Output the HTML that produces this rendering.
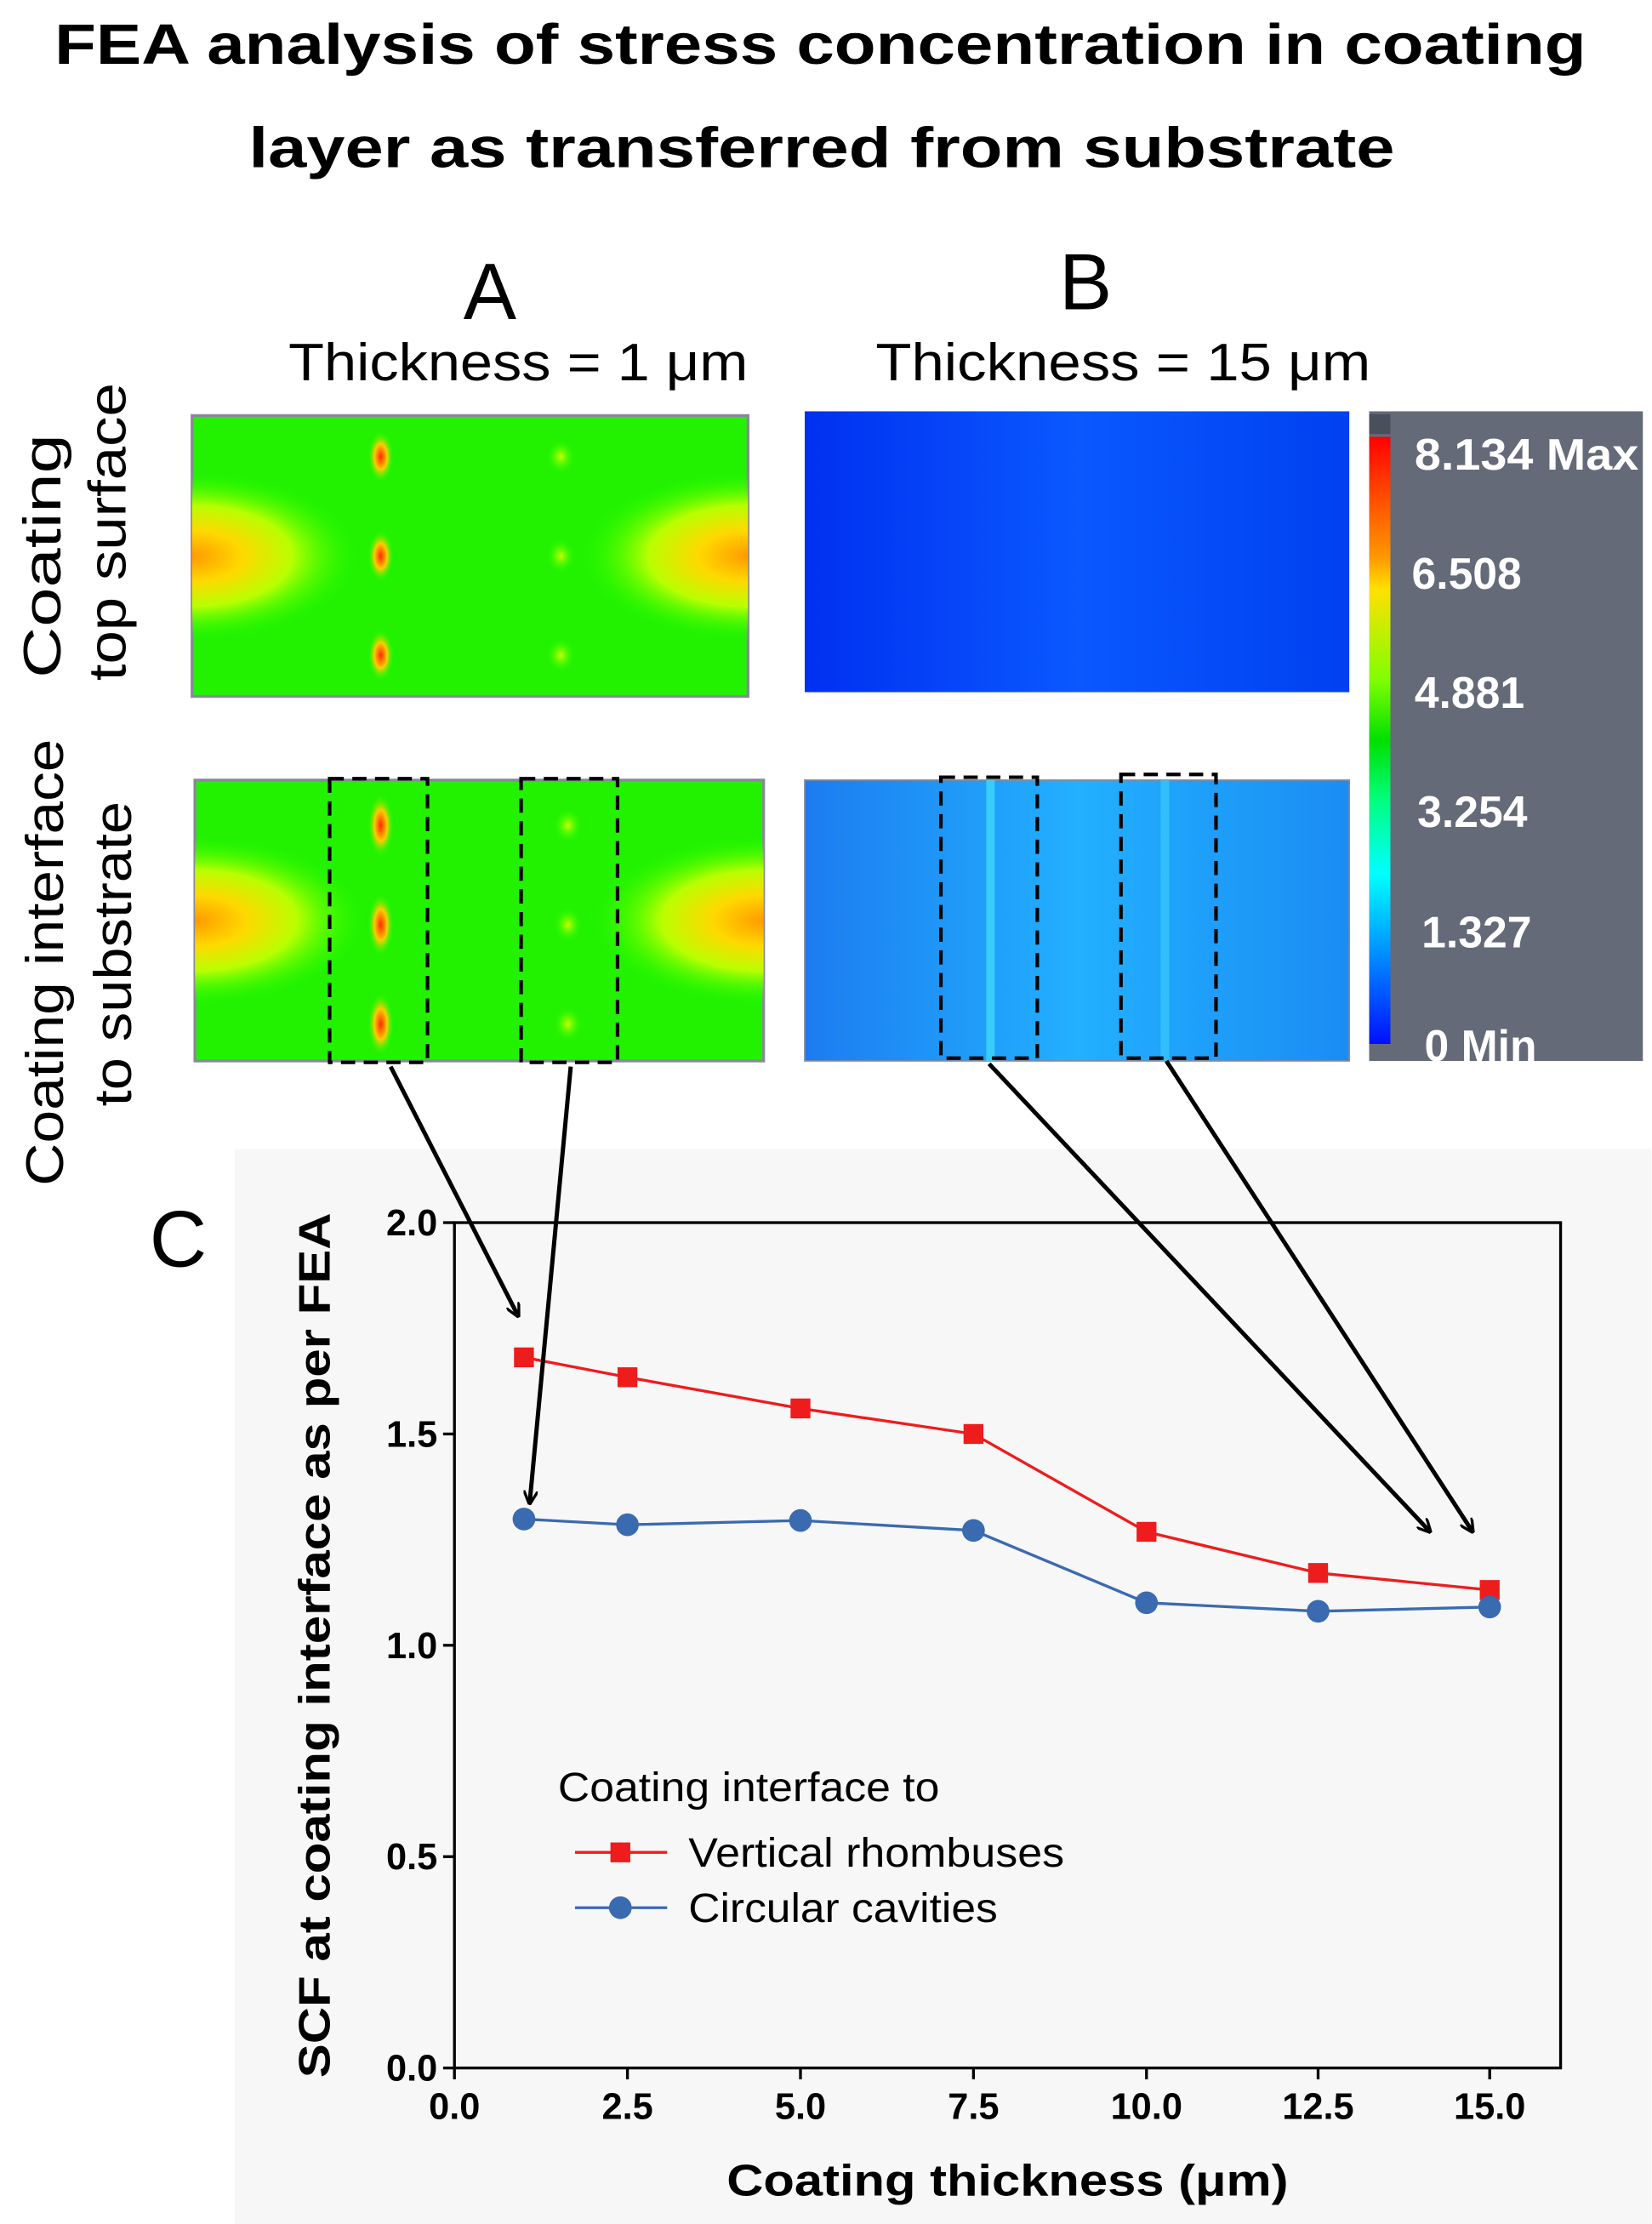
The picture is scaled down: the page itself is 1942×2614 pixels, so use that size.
<!DOCTYPE html>
<html><head><meta charset="utf-8"><style>
html,body{margin:0;padding:0;background:#fff}
svg{display:block}
text{font-family:"Liberation Sans",Arial,sans-serif}
</style></head><body>
<svg width="1942" height="2614" viewBox="0 0 1164 1568" xmlns="http://www.w3.org/2000/svg">
<defs>
<radialGradient id="gl" cx="0" cy="0.5" r="0.3" fx="0" fy="0.5">
<stop offset="0" stop-color="#ff9a00"/><stop offset="0.3" stop-color="#ffd800"/><stop offset="0.6" stop-color="#b8ff00"/><stop offset="1" stop-color="#22ff00" stop-opacity="0"/></radialGradient>
<radialGradient id="gr" cx="1" cy="0.5" r="0.3" fx="1" fy="0.5">
<stop offset="0" stop-color="#ff9a00"/><stop offset="0.3" stop-color="#ffd800"/><stop offset="0.6" stop-color="#b8ff00"/><stop offset="1" stop-color="#22ff00" stop-opacity="0"/></radialGradient>
<radialGradient id="hot"><stop offset="0" stop-color="#ff2a00"/><stop offset="0.5" stop-color="#ffcc00"/><stop offset="1" stop-color="#22ff00" stop-opacity="0"/></radialGradient>
<radialGradient id="warm"><stop offset="0" stop-color="#ccff00"/><stop offset="1" stop-color="#22ff00" stop-opacity="0"/></radialGradient>
<linearGradient id="cb" x1="0" y1="0" x2="0" y2="1">
<stop offset="0" stop-color="#ff0000"/><stop offset="0.2" stop-color="#ff9900"/><stop offset="0.25" stop-color="#ffe000"/><stop offset="0.4" stop-color="#80ff00"/><stop offset="0.5" stop-color="#00e000"/><stop offset="0.6" stop-color="#00ff80"/><stop offset="0.72" stop-color="#00ffff"/><stop offset="0.82" stop-color="#00aaff"/><stop offset="1" stop-color="#0010ff"/></linearGradient>
<linearGradient id="bt" x1="0" y1="0" x2="1" y2="0">
<stop offset="0" stop-color="#0030f0"/><stop offset="0.5" stop-color="#0a58ff"/><stop offset="1" stop-color="#0040f0"/></linearGradient>
<linearGradient id="bb" x1="0" y1="0" x2="1" y2="0">
<stop offset="0" stop-color="#1c7cf0"/><stop offset="0.5" stop-color="#22b0ff"/><stop offset="1" stop-color="#1a8cf4"/></linearGradient>
<marker id="ah" markerWidth="10" markerHeight="10" refX="9" refY="5" orient="auto" markerUnits="userSpaceOnUse"><path d="M0,0 L10,5 L0,10" fill="none" stroke="#000" stroke-width="2"/></marker>
</defs>
<text x="38" y="45" font-size="40" font-weight="bold" textLength="1080" lengthAdjust="spacingAndGlyphs">FEA analysis of stress concentration in coating</text>
<text x="175" y="118" font-size="40" font-weight="bold" textLength="808" lengthAdjust="spacingAndGlyphs">layer as  transferred from substrate</text>
<text x="345" y="225" font-size="56" text-anchor="middle">A</text>
<text x="765" y="218" font-size="56" text-anchor="middle">B</text>
<text x="203" y="268" font-size="37" textLength="324" lengthAdjust="spacingAndGlyphs">Thickness = 1 μm</text>
<text x="617" y="268" font-size="37" textLength="349" lengthAdjust="spacingAndGlyphs">Thickness = 15 μm</text>
<g font-size="37">
<text transform="translate(42,478) rotate(-90)" textLength="172" lengthAdjust="spacingAndGlyphs">Coating</text>
<text transform="translate(88,480) rotate(-90)" textLength="210" lengthAdjust="spacingAndGlyphs">top surface</text>
<text transform="translate(44,836) rotate(-90)" textLength="315" lengthAdjust="spacingAndGlyphs">Coating interface</text>
<text transform="translate(92,780) rotate(-90)" textLength="215" lengthAdjust="spacingAndGlyphs">to substrate</text>
</g>
<rect x="135" y="293" width="392" height="198" fill="#22f200" stroke="#889" stroke-width="2"/>
<rect x="135" y="293" width="392" height="198" fill="url(#gl)"/>
<rect x="135" y="293" width="392" height="198" fill="url(#gr)"/>
<g fill="url(#hot)"><ellipse cx="268" cy="322" rx="9" ry="18"/><ellipse cx="268" cy="392" rx="9" ry="18"/><ellipse cx="268" cy="462" rx="9" ry="18"/></g>
<g fill="url(#warm)"><ellipse cx="395" cy="322" rx="10" ry="12"/><ellipse cx="395" cy="392" rx="10" ry="12"/><ellipse cx="395" cy="462" rx="10" ry="12"/></g>
<rect x="137" y="550" width="401" height="198" fill="#22f200" stroke="#889" stroke-width="2"/>
<rect x="137" y="550" width="401" height="198" fill="url(#gl)"/>
<rect x="137" y="550" width="401" height="198" fill="url(#gr)"/>
<g fill="url(#hot)"><ellipse cx="268" cy="582" rx="9" ry="22"/><ellipse cx="268" cy="652" rx="9" ry="22"/><ellipse cx="268" cy="722" rx="9" ry="22"/></g>
<g fill="url(#warm)"><ellipse cx="400" cy="582" rx="10" ry="12"/><ellipse cx="400" cy="652" rx="10" ry="12"/><ellipse cx="400" cy="722" rx="10" ry="12"/></g>
<rect x="567" y="290" width="384" height="198" fill="url(#bt)"/>
<rect x="567" y="550" width="384" height="198" fill="url(#bb)" stroke="#889" stroke-width="1"/>
<rect x="695" y="550" width="6" height="198" fill="#40e0ff" opacity="0.7"/>
<rect x="818" y="550" width="6" height="198" fill="#40d0ff" opacity="0.6"/>
<g fill="none" stroke="#000" stroke-width="2.5" stroke-dasharray="10,6">
<rect x="232" y="549" width="69" height="200"/><rect x="367" y="549" width="68" height="200"/>
<rect x="663" y="548" width="68" height="198"/><rect x="790" y="546" width="67" height="200"/>
</g>
<rect x="965" y="290" width="193" height="458" fill="#646a78"/>
<rect x="965" y="292" width="15" height="14" fill="#4a4f5c"/>
<rect x="965" y="308" width="15" height="428" fill="url(#cb)"/>
<g fill="#fff" font-size="31" font-weight="bold">
<text x="997" y="331" textLength="158" lengthAdjust="spacingAndGlyphs">8.134 Max</text><text x="995" y="415">6.508</text><text x="997" y="499">4.881</text>
<text x="999" y="583">3.254</text><text x="1002" y="668">1.327</text><text x="1004" y="748">0  Min</text>
</g>
<rect x="165" y="810" width="999" height="758" fill="#f7f7f7"/>
<text x="105" y="893" font-size="56">C</text>
<rect x="320" y="862" width="780" height="596" fill="none" stroke="#000" stroke-width="2"/>
<g stroke="#000" stroke-width="2">
<line x1="320" y1="1458" x2="320" y2="1466"/><line x1="442" y1="1458" x2="442" y2="1466"/><line x1="564" y1="1458" x2="564" y2="1466"/><line x1="686" y1="1458" x2="686" y2="1466"/><line x1="808" y1="1458" x2="808" y2="1466"/><line x1="929" y1="1458" x2="929" y2="1466"/><line x1="1050" y1="1458" x2="1050" y2="1466"/>
<line x1="312" y1="1458" x2="320" y2="1458"/><line x1="312" y1="1309" x2="320" y2="1309"/><line x1="312" y1="1160" x2="320" y2="1160"/><line x1="312" y1="1011" x2="320" y2="1011"/><line x1="312" y1="862" x2="320" y2="862"/>
</g>
<g font-size="26" font-weight="bold" text-anchor="middle">
<text x="320" y="1494">0.0</text><text x="442" y="1494">2.5</text><text x="564" y="1494">5.0</text><text x="686" y="1494">7.5</text><text x="808" y="1494">10.0</text><text x="929" y="1494">12.5</text><text x="1050" y="1494">15.0</text>
</g>
<g font-size="26" font-weight="bold" text-anchor="end">
<text x="308" y="1467">0.0</text><text x="308" y="1318">0.5</text><text x="308" y="1169">1.0</text><text x="308" y="1020">1.5</text><text x="308" y="871">2.0</text>
</g>
<text x="512" y="1548" font-size="31" font-weight="bold" textLength="396" lengthAdjust="spacingAndGlyphs">Coating thickness (μm)</text>
<text transform="translate(232,1465) rotate(-90)" font-size="31" font-weight="bold" textLength="610" lengthAdjust="spacingAndGlyphs">SCF at coating interface as per FEA</text>
<polyline points="369,957 442,971 564,993 686,1011 808,1080 929,1109 1050,1121" fill="none" stroke="#ee1c1c" stroke-width="2"/>
<g fill="#ee1c1c"><rect x="362" y="950" width="14" height="14"/><rect x="435" y="964" width="14" height="14"/><rect x="557" y="986" width="14" height="14"/><rect x="679" y="1004" width="14" height="14"/><rect x="801" y="1073" width="14" height="14"/><rect x="922" y="1102" width="14" height="14"/><rect x="1043" y="1114" width="14" height="14"/></g>
<polyline points="369,1071 442,1075 564,1072 686,1079 808,1130 929,1136 1050,1133" fill="none" stroke="#3a6ab0" stroke-width="2"/>
<g fill="#3a6ab0"><circle cx="369" cy="1071" r="8"/><circle cx="442" cy="1075" r="8"/><circle cx="564" cy="1072" r="8"/><circle cx="686" cy="1079" r="8"/><circle cx="808" cy="1130" r="8"/><circle cx="929" cy="1136" r="8"/><circle cx="1050" cy="1133" r="8"/></g>
<text x="393" y="1270" font-size="29" textLength="269" lengthAdjust="spacingAndGlyphs">Coating interface to</text>
<line x1="405" y1="1306" x2="470" y2="1306" stroke="#ee1c1c" stroke-width="2"/><rect x="430" y="1299" width="14" height="14" fill="#ee1c1c"/>
<text x="485" y="1316" font-size="29" textLength="265" lengthAdjust="spacingAndGlyphs">Vertical rhombuses</text>
<line x1="405" y1="1345" x2="470" y2="1345" stroke="#3a6ab0" stroke-width="2"/><circle cx="437" cy="1345" r="8" fill="#3a6ab0"/>
<text x="485" y="1355" font-size="29" textLength="218" lengthAdjust="spacingAndGlyphs">Circular cavities</text>
<g stroke="#000" stroke-width="3" fill="none" marker-end="url(#ah)">
<line x1="275" y1="752" x2="365" y2="928"/><line x1="402" y1="752" x2="373" y2="1060"/>
<line x1="697" y1="750" x2="1008" y2="1080"/><line x1="822" y1="748" x2="1038" y2="1080"/>
</g>
</svg>
</body></html>
